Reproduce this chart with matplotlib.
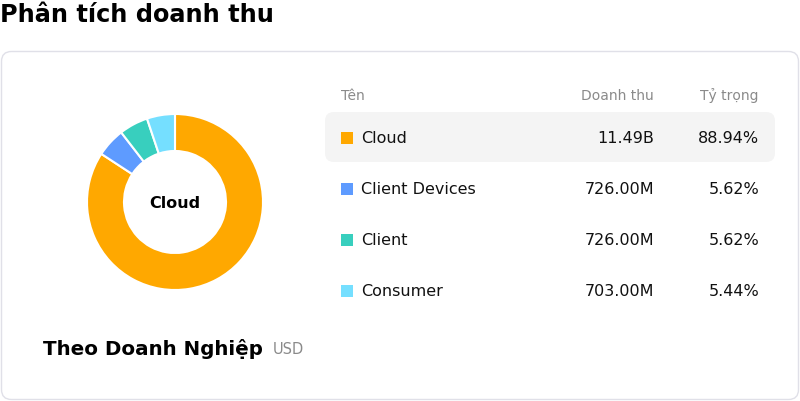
import matplotlib.pyplot as plt
from matplotlib.patches import FancyBboxPatch, Rectangle

# data
names = ["Cloud", "Client Devices", "Client", "Consumer"]
revenue = [11.49e9, 726e6, 726e6, 703e6]
revenue_labels = ["11.49B", "726.00M", "726.00M", "703.00M"]
share_labels = ["88.94%", "5.62%", "5.62%", "5.44%"]
colors = ["#FFA800", "#5E9BFF", "#38CFBE", "#75DFFF"]

W, H = 800, 402
fig = plt.figure(figsize=(W / 100, H / 100), dpi=100)

# background layer in pixel coords
bg = fig.add_axes([0, 0, 1, 1])
bg.set_xlim(0, W)
bg.set_ylim(H, 0)
bg.axis("off")

bg.text(0, 15, "Phân tích doanh thu", fontsize=17.3, fontweight="bold",
        ha="left", va="center", color="#000000")

card = FancyBboxPatch((1.5, 52.5), 797, 348, boxstyle="round,pad=0,rounding_size=10",
                      facecolor="white", edgecolor="#E0E0E8", linewidth=1)
bg.add_patch(card)

# table header
bg.text(341, 95.5, "Tên", fontsize=10, color="#8A8A8A", ha="left", va="center")
bg.text(654, 95.5, "Doanh thu", fontsize=10, color="#8A8A8A", ha="right", va="center")
bg.text(759, 95.5, "Tỷ trọng", fontsize=10, color="#8A8A8A", ha="right", va="center")

# highlighted first row
hl = FancyBboxPatch((325, 113), 450, 50, boxstyle="round,pad=0,rounding_size=9",
                    facecolor="#F4F4F4", edgecolor="none")
bg.add_patch(hl)

row_y = [138.5, 189.5, 240.5, 291.5]
for i, name in enumerate(names):
    y = row_y[i]
    bg.add_patch(Rectangle((341, y - 6), 12, 12, facecolor=colors[i], edgecolor="none"))
    bg.text(361, y, name, fontsize=11.5, color="#111111", ha="left", va="center")
    bg.text(654, y, revenue_labels[i], fontsize=11.5, color="#111111", ha="right", va="center")
    bg.text(759, y, share_labels[i], fontsize=11.5, color="#111111", ha="right", va="center")

# footer label
bg.text(43, 349, "Theo Doanh Nghiệp", fontsize=14.3, fontweight="bold",
        color="#000000", ha="left", va="center")
bg.text(273, 349.5, "USD", fontsize=10.5, color="#8A8A8A", ha="left", va="center")

# donut
cx, cy, r = 175, 203, 88
pie_ax = fig.add_axes([(cx - r) / W, (H - cy - r) / H, 2 * r / W, 2 * r / H])
pie_ax.pie(revenue, colors=colors, startangle=90, counterclock=False, radius=1,
           wedgeprops=dict(width=37 / 88, edgecolor="white", linewidth=1.5))
pie_ax.set_xlim(-1, 1)
pie_ax.set_ylim(-1, 1)
pie_ax.set_aspect("equal")
pie_ax.text(0, 0, names[0], fontsize=11.5, fontweight="bold", ha="center", va="center",
            color="#000000")

fig.savefig("out.png", dpi=100)
